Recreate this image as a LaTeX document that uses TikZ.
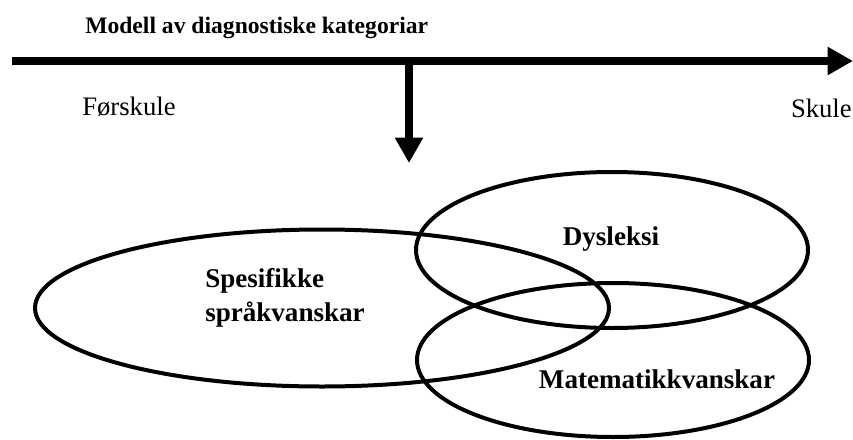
\documentclass[tikz,border=0pt]{standalone}
\usepackage{fontspec}
\setmainfont{Liberation Serif}
\usetikzlibrary{arrows.meta,shapes.geometric,positioning}

\tikzset{
  timeline/.style={line width=6pt,-{Triangle[length=19pt,width=20pt]}},
  category/.style={draw,ellipse,line width=3pt,inner sep=0pt},
  catlabel/.style={font=\fontsize{20.3}{26}\selectfont\bfseries,inner sep=0pt},
  endlabel/.style={font=\fontsize{20}{24}\selectfont,inner sep=0pt}
}

\begin{document}
\begin{tikzpicture}[x=0.75pt,y=-0.75pt]
\useasboundingbox (0,0) rectangle (853,439);

\node [anchor=base west,inner sep=0pt,font=\fontsize{17.7}{20}\selectfont\bfseries]
  (title) at (85,33) {Modell av diagnostiske kategoriar};

% time line
\coordinate (start) at (12,61);
\coordinate (end) at (853,61);
\coordinate (split) at (409,61);
\coordinate (down) at (409,163);
\draw [timeline] (start) -- (end);
\draw [timeline] (split) -- (down);

\node [endlabel,anchor=base west] (pre) at (82,115) {Førskule};
\node [endlabel,anchor=base east] (school) at (852,117) {Skule};

% categories
\node [category,minimum width=430.5pt,minimum height=117.75pt] (spraak) at (322,308) {};
\node [category,minimum width=294pt,minimum height=117pt] (dys) at (612,250) {};
\node [category,minimum width=294pt,minimum height=115.5pt] (mat) at (613,360) {};

\node [catlabel,anchor=west,align=left] (spraaklabel) at (205,298) {Spesifikke\\språkvanskar};
\node [catlabel,anchor=base] (dyslabel) at (611,245) {Dysleksi};
\node [catlabel,anchor=base] (matlabel) at (657,388) {Matematikkvanskar};

\end{tikzpicture}
\end{document}
